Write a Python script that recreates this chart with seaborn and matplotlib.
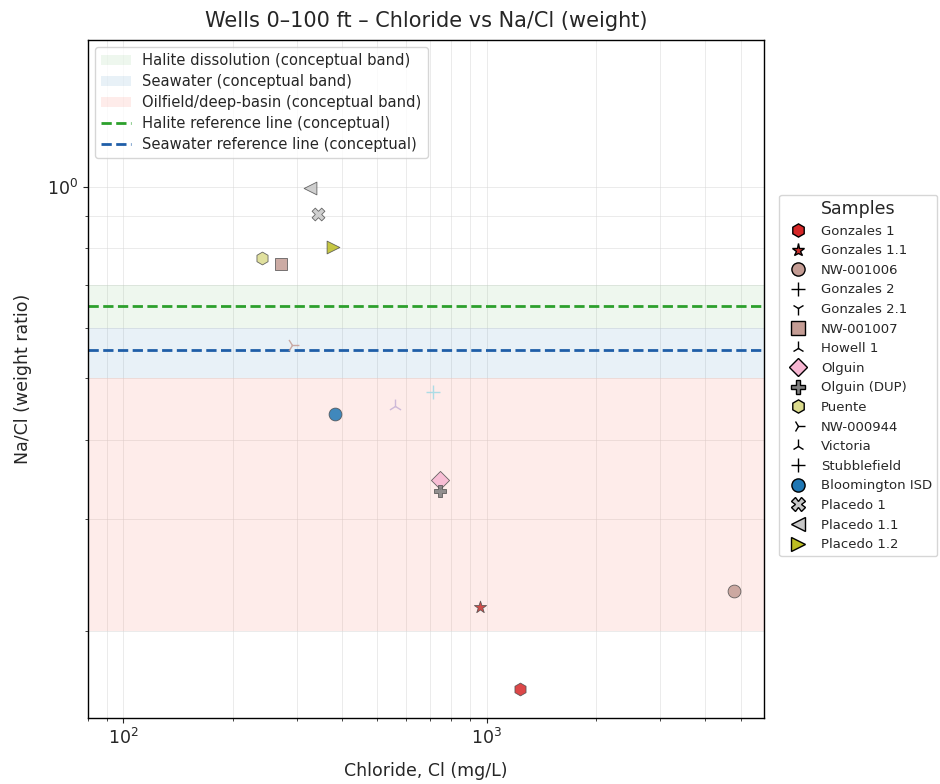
import matplotlib
matplotlib.use("Agg")
import matplotlib.pyplot as plt
from matplotlib.lines import Line2D
import numpy as np
import pandas as pd
import seaborn as sns

sns.set_style("ticks")
plt.rcParams['font.family'] = ['DejaVu Sans']

# sample data (NaN = not plotted)
samples = ["Gonzales 1", "Gonzales 1.1", "NW-001006", "Gonzales 2", "Gonzales 2.1",
           "NW-001007", "Howell 1", "Olguin", "Olguin (DUP)", "Puente", "NW-000944",
           "Victoria", "Stubblefield", "Bloomington ISD", "Placedo 1", "Placedo 1.1",
           "Placedo 1.2"]
chloride = [1232, 958, 4805, np.nan, np.nan,
            272, np.nan, 742, 742, 241, 291,
            561, 711, 383, 343, 326,
            379]
na_cl = [0.162, 0.218, 0.231, np.nan, np.nan,
         0.756, np.nan, 0.345, 0.332, 0.772, 0.564,
         0.451, 0.475, 0.439, 0.904, 0.993,
         0.803]
markers = ["h", "*", "o", "+", "1",
           "s", "2", "D", "P", "h", "4",
           "2", "+", "o", "X", "<",
           ">"]
colors = ["#d62728", "#c9302c", "#c49c94", "#aec7e8", "#ff9896",
          "#c49c94", "#c5b0d5", "#f7b6d2", "#7f7f7f", "#dbdb8d", "#c49c94",
          "#c5b0d5", "#9edae5", "#1f77b4", "#c7c7c7", "#c7c7c7",
          "#bcbd22"]

# conceptual bands and reference lines
halite_band = (0.6, 0.7)
seawater_band = (0.5, 0.6)
oilfield_band = (0.2, 0.5)
halite_ref = 0.648
seawater_ref = 0.553

df = pd.DataFrame({"Sample": samples, "Cl": chloride, "NaCl": na_cl})

fig = plt.figure(figsize=(9.4, 7.84), dpi=100)
ax = fig.add_axes([0.0936, 0.0842, 0.7192, 0.8648])
ax.set_xscale("log")
ax.set_yscale("log")

b1 = ax.axhspan(*halite_band, color="tab:green", alpha=0.08, lw=0,
                label="Halite dissolution (conceptual band)")
b2 = ax.axhspan(*seawater_band, color="tab:blue", alpha=0.10, lw=0,
                label="Seawater (conceptual band)")
b3 = ax.axhspan(*oilfield_band, color="salmon", alpha=0.15, lw=0,
                label="Oilfield/deep-basin (conceptual band)")
l1 = ax.axhline(halite_ref, color="tab:green", ls="--", lw=2,
                label="Halite reference line (conceptual)")
l2 = ax.axhline(seawater_ref, color="#1f5ea8", ls="--", lw=2,
                label="Seawater reference line (conceptual)")

handles = []
for k, name in enumerate(samples):
    sub = df[df["Sample"] == name].dropna()
    m = markers[k]
    filled = matplotlib.markers.MarkerStyle(m).is_filled()
    if len(sub):
        if filled:
            sns.scatterplot(data=sub, x="Cl", y="NaCl", marker=m, color=colors[k],
                            s=85, edgecolor="0.3", linewidth=0.6, alpha=0.85,
                            ax=ax, legend=False, zorder=3)
        else:
            sns.scatterplot(data=sub, x="Cl", y="NaCl", marker=m, color=colors[k],
                            s=100, linewidth=1.0, alpha=0.85,
                            ax=ax, legend=False, zorder=3)
    handles.append(Line2D([], [], marker=m, ls="", markersize=9.5,
                          markerfacecolor=colors[k], markeredgecolor="k",
                          markeredgewidth=1.0, label=name))

ax.set_xlim(80, 5800)
ax.set_ylim(0.146, 1.70)
ax.grid(True, which="both", color="0.85", lw=0.6, alpha=0.6)
for axis in ['top', 'bottom', 'left', 'right']:
    ax.spines[axis].set_color("black")
    ax.spines[axis].set_linewidth(1.0)

ax.set_xlabel("Chloride, Cl (mg/L)", size=12.5, labelpad=10)
ax.set_ylabel("Na/Cl (weight ratio)", size=12.5, labelpad=11)
ax.set_title("Wells 0\u2013100 ft \u2013 Chloride vs Na/Cl (weight)", size=15, pad=9)
ax.tick_params(labelsize=12.5)

leg1 = ax.legend(handles=[b1, b2, b3, l1, l2], loc="upper left", fontsize=10.6,
                 labelspacing=0.4)
ax.add_artist(leg1)
ax.legend(handles=handles, title="Samples", loc="center left",
          bbox_to_anchor=(1.017, 0.505), fontsize=9.5, title_fontsize=12.5,
          labelspacing=0.5, handletextpad=0.75, borderaxespad=0.3)

fig.savefig("out.png", dpi=100)
